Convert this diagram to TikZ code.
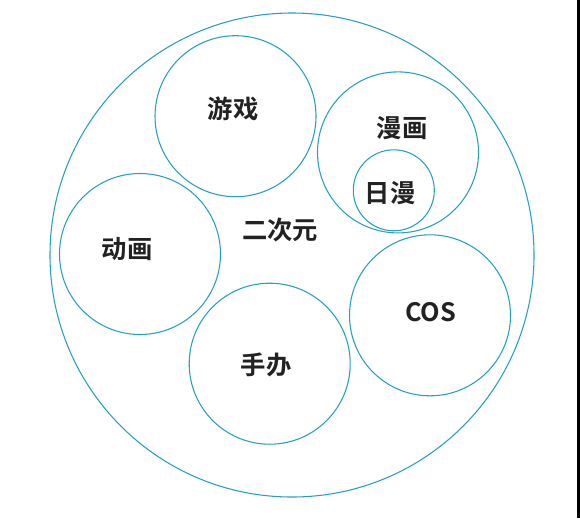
\documentclass[tikz,border=0pt]{standalone}
\usepackage{fontspec}
\newfontfamily\cjk{Noto Sans CJK SC}[BoldFont={Noto Sans CJK SC Bold}]
\definecolor{ring}{RGB}{38,160,190}
\definecolor{ink}{RGB}{34,34,34}
\begin{document}
\begin{tikzpicture}[x=0.75pt,y=-0.75pt,
  ringc/.style={circle,draw=ring,line width=0.8pt,inner sep=0pt,minimum size=120.75pt},
  smallc/.style={circle,draw=ring,line width=0.8pt,inner sep=0pt,minimum size=60.75pt},
  bigc/.style={circle,draw=ring,line width=0.8pt,inner sep=0pt,minimum size=363pt},
  lbl/.style={text=ink,font=\cjk\bfseries\fontsize{19}{22}\selectfont,inner sep=0pt}]
\useasboundingbox (0,0) rectangle (580,518);
\fill[black] (576.7,0) rectangle (580,518);
\node[bigc] (all) at (292,255) {};
\node[ringc] (game) at (235.5,116.2) {};
\node[ringc] (comic) at (398,152.4) {};
\node[smallc] (jcomic) at (393.8,190.3) {};
\node[ringc] (anim) at (140,254) {};
\node[ringc] (cos) at (430,315.3) {};
\node[ringc] (fig) at (269.7,363.7) {};
\node[lbl] (tgame) at (233,109) {游戏};
\node[lbl] (tcomic) at (402,128) {漫画};
\node[lbl] (tjcomic) at (390,193) {日漫};
\node[lbl] (tanim) at (127,249) {动画};
\node[lbl] (tcos) at (430.5,312) {COS};
\node[lbl] (tfig) at (266,365) {手办};
\node[lbl] (tall) at (280,230) {二次元};
\end{tikzpicture}
\end{document}
